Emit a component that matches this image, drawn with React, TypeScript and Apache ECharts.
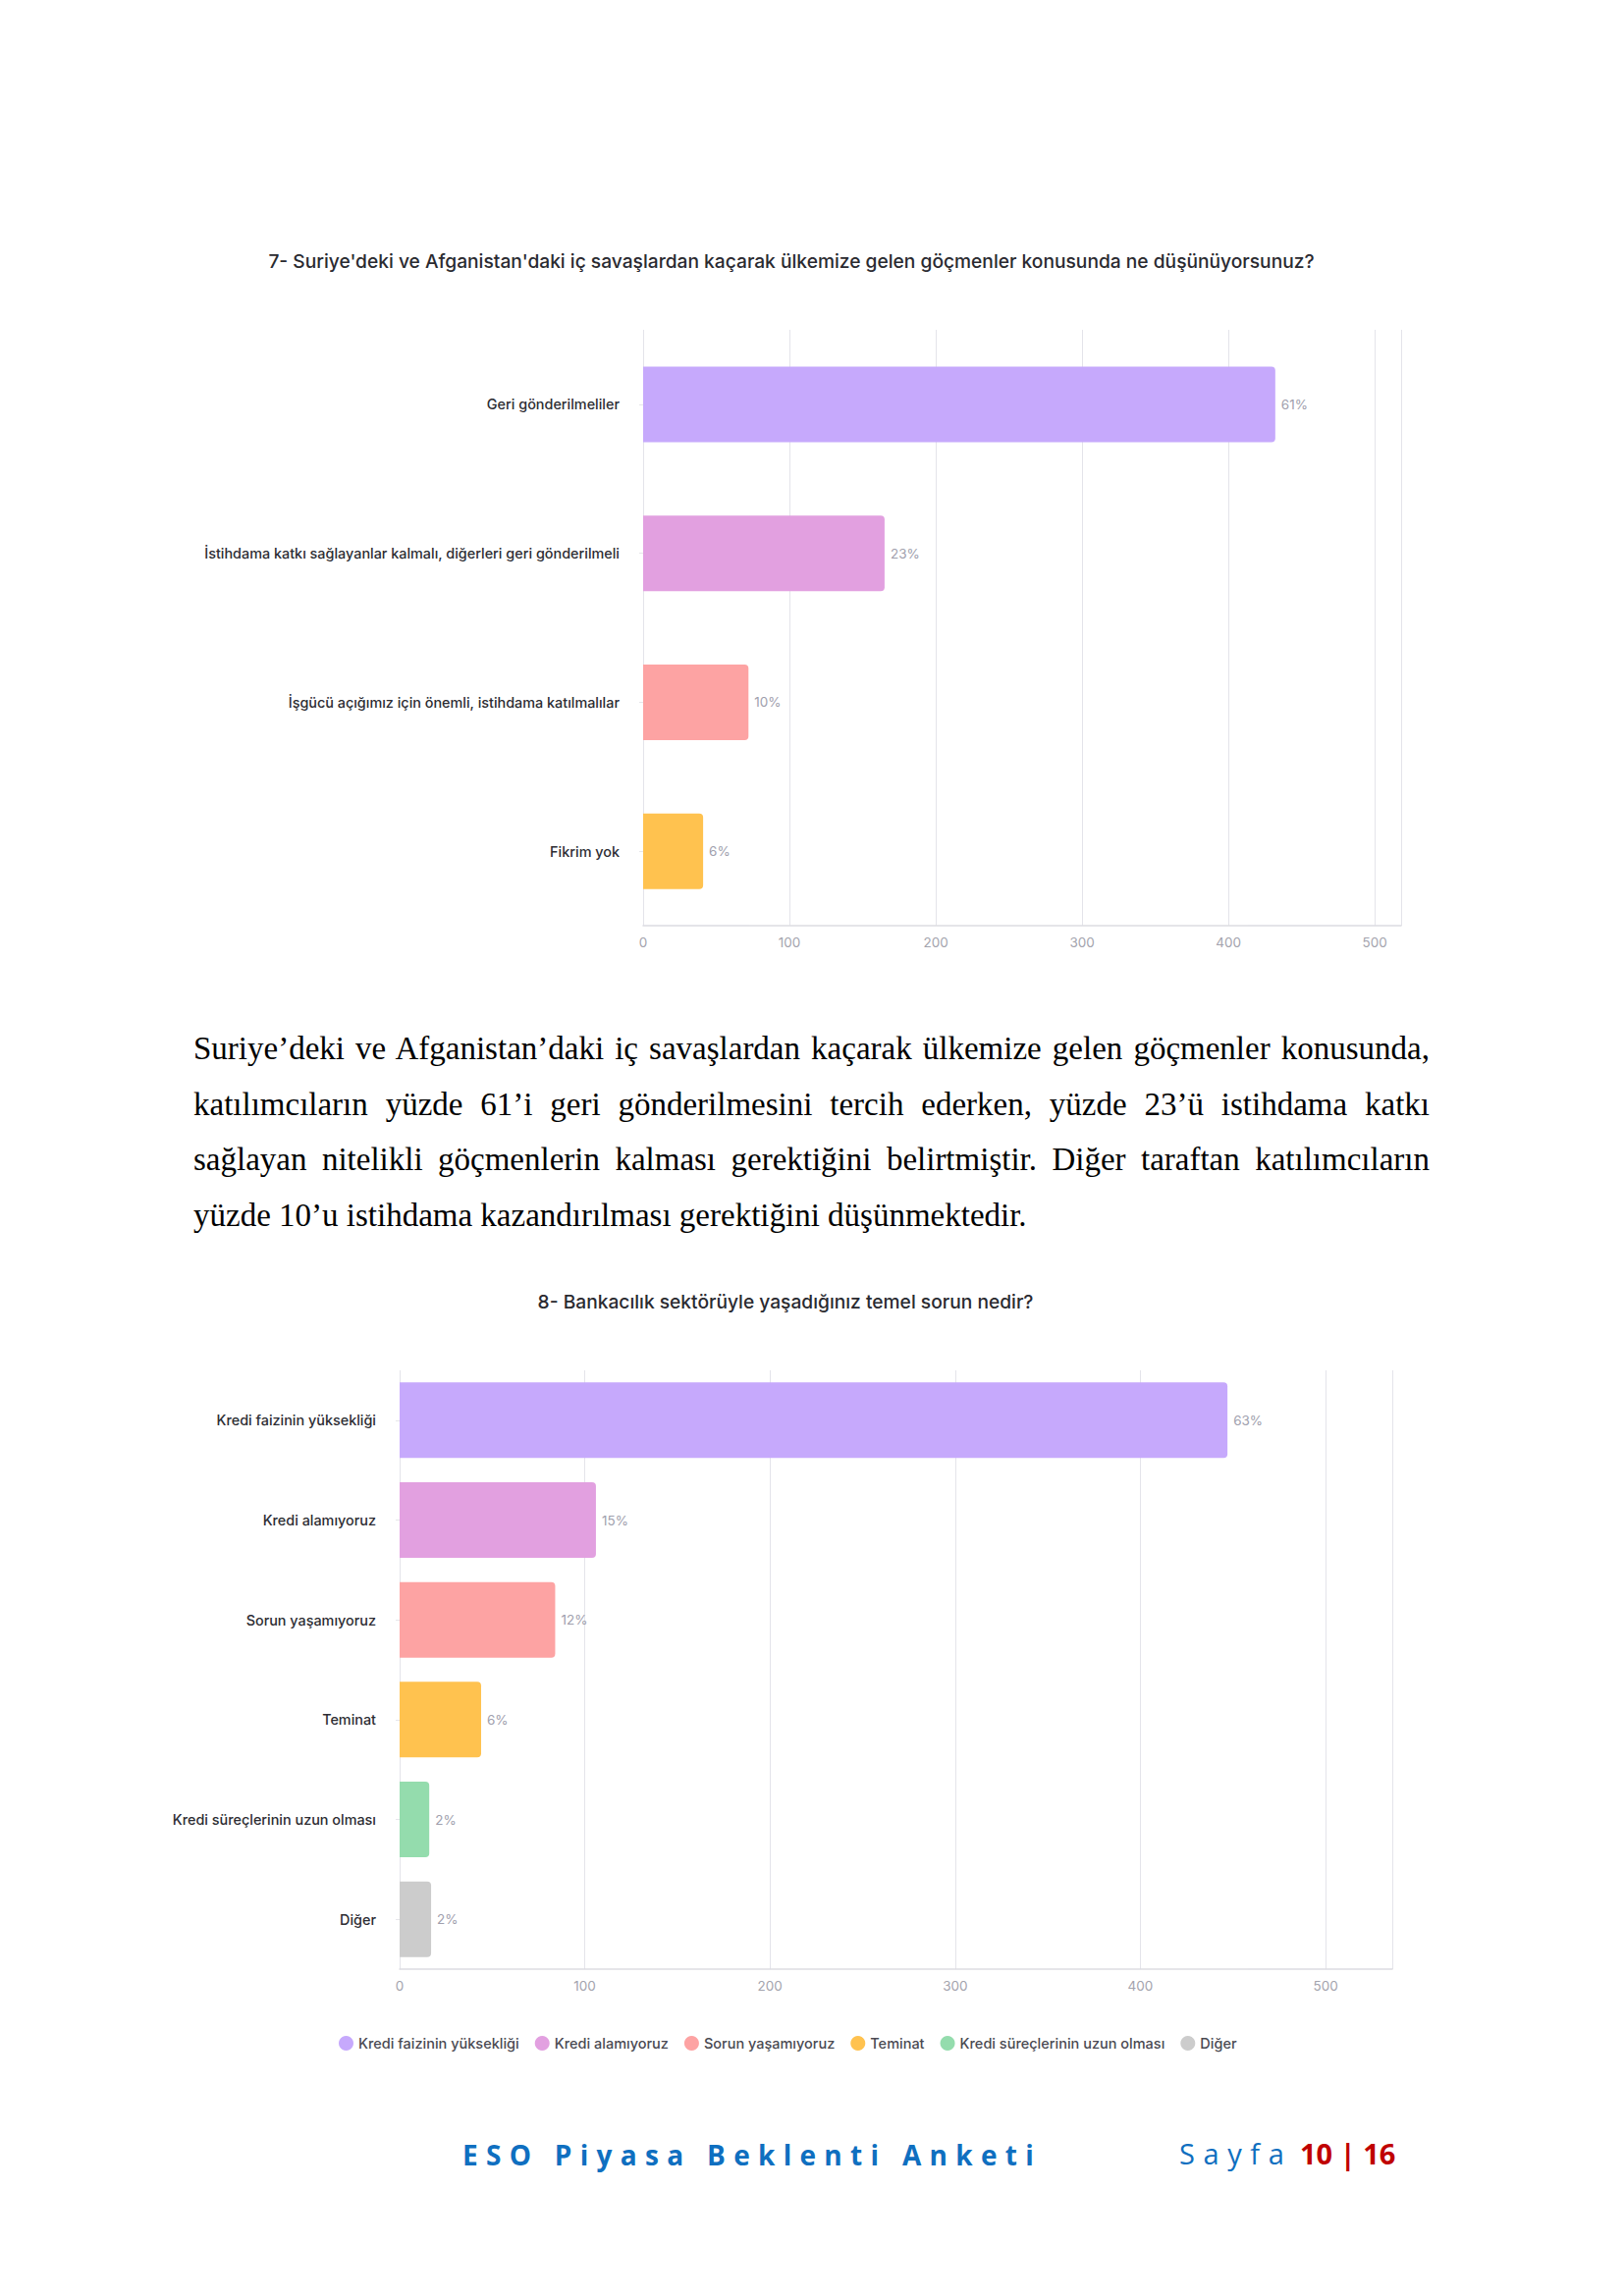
import React, { useEffect, useRef } from "react";
import * as echarts from "echarts";

const q7Title =
  "7- Suriye'deki ve Afganistan'daki iç savaşlardan kaçarak ülkemize gelen göçmenler konusunda ne düşünüyorsunuz?";
const q7Categories = [
  "Geri gönderilmeliler",
  "İstihdama katkı sağlayanlar kalmalı, diğerleri geri gönderilmeli",
  "İşgücü açığımız için önemli, istihdama katılmalılar",
  "Fikrim yok",
];
const q7Values = [432, 165, 72, 41];
const q7Percents = ["61%", "23%", "10%", "6%"];

const q8Title = "8- Bankacılık sektörüyle yaşadığınız temel sorun nedir?";
const q8Categories = [
  "Kredi faizinin yüksekliği",
  "Kredi alamıyoruz",
  "Sorun yaşamıyoruz",
  "Teminat",
  "Kredi süreçlerinin uzun olması",
  "Diğer",
];
const q8Values = [447, 106, 84, 44, 16, 17];
const q8Percents = ["63%", "15%", "12%", "6%", "2%", "2%"];

const tickValues = [0, 100, 200, 300, 400, 500];
const q7AxisMax = 518;
const q8AxisMax = 536;

const barColors = ["#c6a9fc", "#e2a0e0", "#fda3a3", "#ffc24f", "#94dcad", "#cccccc"];

const paragraphLines = [
  "Suriye’deki ve Afganistan’daki iç savaşlardan kaçarak ülkemize gelen göçmenler konusunda,",
  "katılımcıların yüzde 61’i geri gönderilmesini tercih ederken, yüzde 23’ü istihdama katkı",
  "sağlayan nitelikli göçmenlerin kalması gerektiğini belirtmiştir. Diğer taraftan katılımcıların",
  "yüzde 10’u istihdama kazandırılması gerektiğini düşünmektedir.",
];

const footerLeft = "ESO Piyasa Beklenti Anketi";
const footerPage = "Sayfa";
const footerNum = "10";
const footerTotal = "16";

const FONT = "Inter, 'Noto Sans', sans-serif";

export default function App() {
  const ref = useRef<HTMLDivElement>(null);

  useEffect(() => {
    if (!ref.current) return;
    const chart = echarts.init(ref.current, undefined, { renderer: "svg" });

    const gridLineColor = "#e4e4ea";
    const axisLabelStyle = {
      color: "#a3a3ad",
      fontSize: 13.5,
      fontFamily: FONT,
      margin: 10,
      formatter: (v: number) => (tickValues.indexOf(v) >= 0 ? String(v) : ""),
    };
    const catLabelStyle = {
      color: "#2d2d33",
      fontSize: 14.4,
      fontWeight: 500 as any,
      fontFamily: FONT,
      margin: 24,
    };
    const valueLabel = {
      show: true,
      position: "right" as const,
      color: "#a0a0ad",
      fontSize: 13.5,
      fontFamily: FONT,
      distance: 6,
    };

    const q8Series = q8Categories.map((name, i) => ({
      type: "bar",
      name,
      xAxisIndex: 1,
      yAxisIndex: 1,
      stack: "q8",
      barWidth: 77,
      data: q8Values.map((v, j) => (j === i ? v : null)),
      itemStyle: { color: barColors[i], borderRadius: [0, 4, 4, 0] },
      label: { ...valueLabel, formatter: () => q8Percents[i] },
      emphasis: { disabled: true },
    }));

    chart.setOption({
      animation: false,
      backgroundColor: "#ffffff",
      grid: [
        { left: 655, top: 336, width: 772, height: 607 },
        { left: 407, top: 1396, width: 1011, height: 610 },
      ],
      xAxis: [
        {
          type: "value",
          gridIndex: 0,
          min: 0,
          max: q7AxisMax,
          interval: 100,
          axisLine: { show: true, lineStyle: { color: "#dcdce2", width: 1.5 } },
          axisTick: { show: false },
          splitLine: { show: true, lineStyle: { color: gridLineColor, width: 1 } },
          axisLabel: axisLabelStyle,
        },
        {
          type: "value",
          gridIndex: 1,
          min: 0,
          max: q8AxisMax,
          interval: 100,
          axisLine: { show: true, lineStyle: { color: "#dcdce2", width: 1.5 } },
          axisTick: { show: false },
          splitLine: { show: true, lineStyle: { color: gridLineColor, width: 1 } },
          axisLabel: axisLabelStyle,
        },
      ],
      yAxis: [
        {
          type: "category",
          gridIndex: 0,
          inverse: true,
          data: q7Categories,
          axisLine: { show: false },
          axisTick: { show: true, alignWithLabel: true, length: 4, lineStyle: { color: "#e6e6ea" } },
          axisLabel: catLabelStyle,
        },
        {
          type: "category",
          gridIndex: 1,
          inverse: true,
          data: q8Categories,
          axisLine: { show: false },
          axisTick: { show: true, alignWithLabel: true, length: 4, lineStyle: { color: "#e6e6ea" } },
          axisLabel: catLabelStyle,
        },
      ],
      legend: {
        data: q8Categories,
        top: 2069,
        left: 340,
        icon: "circle",
        itemWidth: 15,
        itemHeight: 15,
        itemGap: 16,
        textStyle: { color: "#4a4a52", fontSize: 14.5, fontFamily: FONT, fontWeight: 500 as any },
        selectedMode: false,
      },
      graphic: [
        {
          type: "text",
          x: 806,
          y: 266,
          style: {
            text: q7Title,
            align: "center",
            verticalAlign: "middle",
            fill: "#2a2a30",
            fontSize: 19.2,
            fontWeight: 500,
            fontFamily: FONT,
          },
        },
        {
          type: "text",
          x: 800,
          y: 1326,
          style: {
            text: q8Title,
            align: "center",
            verticalAlign: "middle",
            fill: "#2a2a30",
            fontSize: 19.2,
            fontWeight: 500,
            fontFamily: FONT,
          },
        },
      ],
      series: [
        {
          type: "bar",
          name: "q7",
          xAxisIndex: 0,
          yAxisIndex: 0,
          barWidth: 77,
          data: q7Values.map((v, i) => ({ value: v, itemStyle: { color: barColors[i] } })),
          itemStyle: { borderRadius: [0, 4, 4, 0] },
          label: { ...valueLabel, formatter: (p: any) => q7Percents[p.dataIndex] },
          emphasis: { disabled: true },
        },
        ...q8Series,
      ],
    });

    return () => chart.dispose();
  }, []);

  const lineTops = [1068, 1125, 1181, 1238];

  return (
    <div
      style={{
        position: "absolute",
        left: 0,
        top: 0,
        width: 1654,
        height: 2339,
        background: "#ffffff",
        overflow: "hidden",
      }}
    >
      <div ref={ref} style={{ position: "absolute", left: 0, top: 0, width: 1654, height: 2339 }} />
      {paragraphLines.map((line, i) => (
        <div
          key={i}
          style={{
            position: "absolute",
            left: 197,
            width: 1259,
            top: lineTops[i] - 20,
            height: 40,
            lineHeight: "40px",
            fontFamily: "'Liberation Serif', 'Times New Roman', serif",
            fontSize: 33,
            color: "#000",
            textAlign: i < paragraphLines.length - 1 ? "justify" : "left",
            textAlignLast: i < paragraphLines.length - 1 ? "justify" : "left",
            whiteSpace: "nowrap",
          } as React.CSSProperties}
        >
          {line}
        </div>
      ))}
      <div
        style={{
          position: "absolute",
          left: 471,
          top: 2175,
          height: 40,
          lineHeight: "40px",
          fontFamily: "'Open Sans', 'Noto Sans', sans-serif",
          fontSize: 28,
          fontWeight: 700,
          color: "#0f6fc0",
          letterSpacing: 8.3,
          whiteSpace: "nowrap",
        }}
      >
        {footerLeft}
      </div>
      <div
        style={{
          position: "absolute",
          left: 1201,
          top: 2174,
          height: 40,
          lineHeight: "40px",
          fontFamily: "'Open Sans', 'Noto Sans', sans-serif",
          fontSize: 29,
          whiteSpace: "nowrap",
        }}
      >
        <span style={{ color: "#0f6fc0", letterSpacing: 8.6 }}>{footerPage}</span>
        <span style={{ color: "#c00000", fontWeight: 700 }}>
          {" "}
          {footerNum} | {footerTotal}
        </span>
      </div>
    </div>
  );
}
